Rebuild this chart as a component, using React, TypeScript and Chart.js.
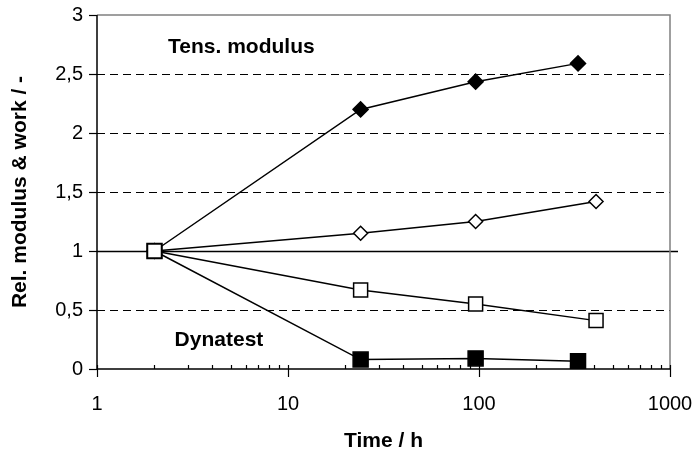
import React, { useEffect, useRef } from "react";
import { Chart, registerables } from "chart.js";

Chart.register(...registerables);

// ---- data ----
const hoursOpenSquare = [2, 24, 96, 410];
const openSquareValues = [1, 0.67, 0.55, 0.41];
const hoursOpenDiamond = [2, 24, 96, 410];
const openDiamondValues = [1, 1.15, 1.25, 1.42];
const hoursFilledDiamond = [2, 24, 96, 330];
const filledDiamondValues = [1, 2.2, 2.435, 2.59];
const hoursFilledSquare = [2, 24, 96, 330];
const filledSquareValues = [1, 0.08, 0.09, 0.065];

const xTickValues = [1, 10, 100, 1000];
const yTickValues = [0, 0.5, 1, 1.5, 2, 2.5, 3];
const annotationTexts = ["Tens. modulus", "Dynatest"];
const annotationX = [5.7, 4.35];
const annotationY = [2.73, 0.245];

const FONT = "'Liberation Sans', Arial, Helvetica, sans-serif";

const toPoints = (xs: number[], ys: number[]) => xs.map((x, i) => ({ x, y: ys[i] }));

const framePlugin = {
  id: "frame",
  beforeDatasetsDraw(chart: any) {
    const { ctx, chartArea: a, scales } = chart;
    const x = scales.x;
    const y = scales.y;
    ctx.save();
    // horizontal grid lines
    for (const v of yTickValues) {
      if (v === yTickValues[0] || v === yTickValues[yTickValues.length - 1]) continue;
      const py = Math.round(y.getPixelForValue(v)) + 0.5;
      ctx.beginPath();
      if (v === 1) {
        ctx.setLineDash([]);
        ctx.lineWidth = 1.5;
        ctx.moveTo(a.left, py);
        ctx.lineTo(a.right + 8, py);
      } else {
        ctx.setLineDash([8, 5]);
        ctx.lineWidth = 1;
        ctx.moveTo(a.left, py);
        ctx.lineTo(a.right, py);
      }
      ctx.strokeStyle = "#000";
      ctx.stroke();
    }
    ctx.setLineDash([]);
    // top and right border (grey)
    ctx.strokeStyle = "#808080";
    ctx.lineWidth = 1.5;
    ctx.beginPath();
    ctx.moveTo(a.left, a.top);
    ctx.lineTo(a.right, a.top);
    ctx.lineTo(a.right, a.bottom);
    ctx.stroke();
    // left & bottom axes (black)
    ctx.strokeStyle = "#000";
    ctx.beginPath();
    ctx.moveTo(a.left, a.top);
    ctx.lineTo(a.left, a.bottom);
    ctx.lineTo(a.right, a.bottom);
    ctx.stroke();
    // y tick marks
    ctx.lineWidth = 1.2;
    for (const v of yTickValues) {
      const py = Math.round(y.getPixelForValue(v)) + 0.5;
      ctx.beginPath();
      ctx.moveTo(a.left - 8, py);
      ctx.lineTo(a.left, py);
      ctx.stroke();
    }
    // x tick marks (major crossing, minor inside)
    for (let d = 0; d < xTickValues.length; d++) {
      const base = xTickValues[d];
      const px = Math.round(x.getPixelForValue(base)) + 0.5;
      ctx.beginPath();
      ctx.moveTo(px, a.bottom - 4);
      ctx.lineTo(px, a.bottom + 8);
      ctx.stroke();
      if (d < xTickValues.length - 1) {
        for (let k = 2; k <= 9; k++) {
          const mx = Math.round(x.getPixelForValue(base * k)) + 0.5;
          ctx.beginPath();
          ctx.moveTo(mx, a.bottom - 4);
          ctx.lineTo(mx, a.bottom);
          ctx.stroke();
        }
      }
    }
    // annotations
    ctx.fillStyle = "#000";
    ctx.font = `bold 21px ${FONT}`;
    ctx.textAlign = "center";
    ctx.textBaseline = "middle";
    annotationTexts.forEach((t, i) => {
      ctx.fillText(t, x.getPixelForValue(annotationX[i]), y.getPixelForValue(annotationY[i]));
    });
    ctx.restore();
  },
};

export default function App() {
  const ref = useRef<HTMLCanvasElement | null>(null);

  useEffect(() => {
    if (!ref.current) return;
    const common = {
      borderColor: "#000",
      borderWidth: 1.5,
      pointBorderColor: "#000",
      pointBorderWidth: 1.5,
      pointHoverRadius: 0,
      showLine: true,
      tension: 0,
    };
    const chart = new Chart(ref.current, {
      type: "line",
      data: {
        datasets: [
          {
            ...common,
            label: "open square",
            data: toPoints(hoursOpenSquare, openSquareValues),
            pointStyle: "rect",
            pointRadius: 9.9,
            pointBackgroundColor: "#fff",
          },
          {
            ...common,
            label: "open diamond",
            data: toPoints(hoursOpenDiamond, openDiamondValues),
            pointStyle: "rectRot",
            pointRadius: 7,
            pointBackgroundColor: "#fff",
          },
          {
            ...common,
            label: "filled diamond",
            data: toPoints(hoursFilledDiamond, filledDiamondValues),
            pointStyle: "rectRot",
            pointRadius: 7.5,
            pointBackgroundColor: "#000",
          },
          {
            ...common,
            label: "filled square",
            data: toPoints(hoursFilledSquare, filledSquareValues),
            pointStyle: "rect",
            pointRadius: 10.6,
            pointBackgroundColor: "#000",
          },
        ],
      } as any,
      options: {
        animation: false,
        responsive: false,
        events: [],
        layout: { padding: { top: 15, right: 26, left: 0, bottom: 0 } },
        plugins: {
          legend: { display: false },
          tooltip: { enabled: false },
        },
        scales: {
          x: {
            type: "logarithmic",
            min: 1,
            max: 1000,
            grid: { display: false, drawTicks: false },
            border: { display: false },
            afterBuildTicks: (s: any) => {
              s.ticks = xTickValues.map((v) => ({ value: v }));
            },
            afterFit: (s: any) => {
              s.height = 85;
              s.paddingLeft = 0;
              s.paddingRight = 0;
            },
            ticks: {
              autoSkip: false,
              maxRotation: 0,
              padding: 23,
              color: "#000",
              font: { family: FONT, size: 20 },
              callback: (v: any) => String(v),
            },
            title: {
              display: true,
              text: "Time / h",
              color: "#000",
              font: { family: FONT, size: 21, weight: "bold" },
              padding: 0,
            },
          },
          y: {
            type: "linear",
            min: 0,
            max: 3,
            grid: { display: false, drawTicks: false },
            border: { display: false },
            afterBuildTicks: (s: any) => {
              s.ticks = yTickValues.map((v) => ({ value: v }));
            },
            afterFit: (s: any) => {
              s.width = 97;
              s.paddingTop = 0;
              s.paddingBottom = 0;
            },
            ticks: {
              padding: 14,
              color: "#000",
              font: { family: FONT, size: 20 },
              callback: (v: any) => String(v).replace(".", ","),
            },
            title: {
              display: true,
              text: "Rel. modulus & work / -",
              color: "#000",
              font: { family: FONT, size: 21, weight: "bold" },
              padding: { top: 8, bottom: 0 },
            },
          },
        },
      } as any,
      plugins: [framePlugin],
    });
    return () => chart.destroy();
  }, []);

  return (
    <div style={{ position: "absolute", left: 0, top: 0, width: 696, height: 454, background: "#fff" }}>
      <canvas ref={ref} width={696} height={454} style={{ display: "block", width: 696, height: 454 }} />
    </div>
  );
}
